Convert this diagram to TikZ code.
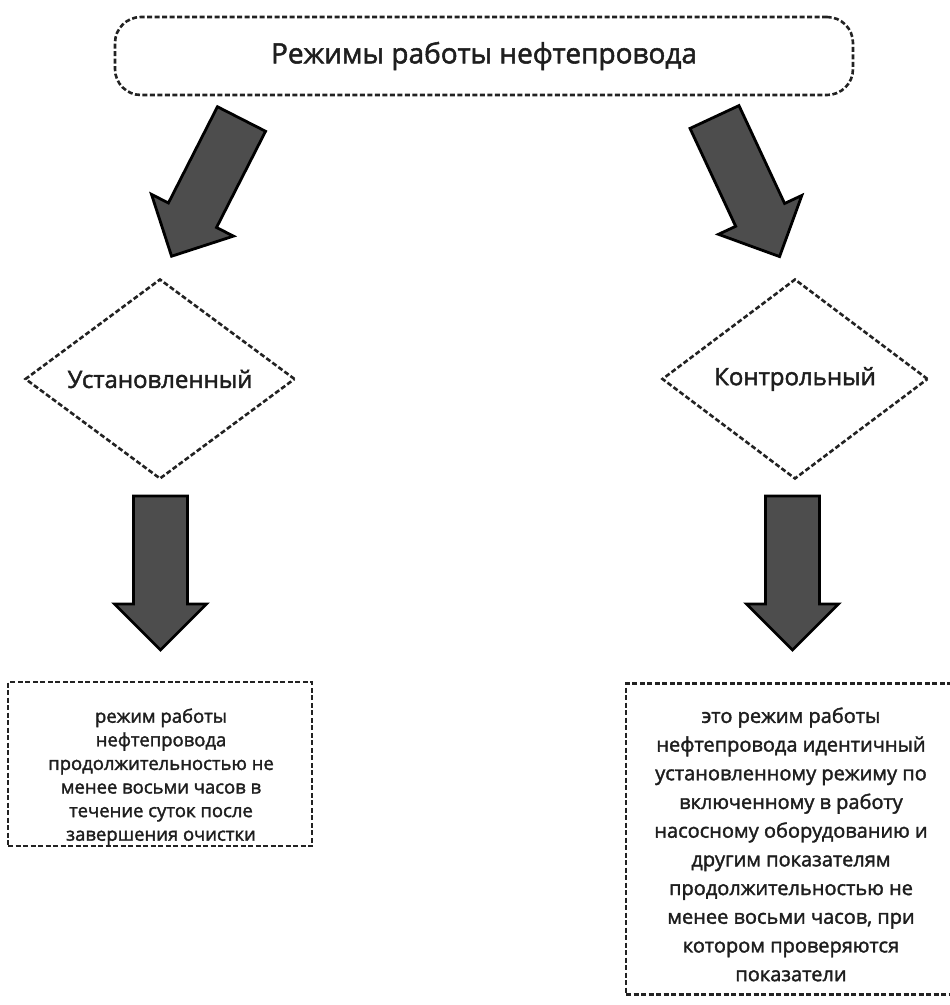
\documentclass[tikz,border=0pt]{standalone}
\usepackage{fontspec}
\setmainfont{Open Sans}
\newfontfamily\osb{Open Sans}[FakeBold=1.8]
\usetikzlibrary{shapes.geometric}
\definecolor{txt}{HTML}{1E1E1E}
\definecolor{edge}{HTML}{222222}
\definecolor{arrowgray}{HTML}{4D4D4D}
\tikzset{
  dashedge/.style={draw=edge, line width=2.6pt, dash pattern=on 5pt off 2.5pt},
  titlebox/.style={dashedge, rounded corners=26pt, minimum width=738pt, minimum height=78pt, text=txt, font=\osb\fontsize{28}{34}\selectfont},
  choice/.style={dashedge, shape=diamond, aspect=1.35, inner sep=0pt, text=txt, font=\osb\fontsize{24}{28}\selectfont},
  descbox/.style={dashedge, rectangle, inner sep=0pt, text=txt, align=center},
  desctext/.style={text=txt, align=center, anchor=north},
  arrowfill/.style={fill=arrowgray, draw=black, line width=2.8pt, line join=miter},
  blockarrow/.pic={\path[arrowfill] (-27,0) -- (27,0) -- (27,108) -- (46,108) -- (0,154) -- (-46,108) -- (-27,108) -- cycle;}
}
\begin{document}
\begin{tikzpicture}[x=1pt,y=-1pt]
\useasboundingbox (0,0) rectangle (950,1005);
\node[titlebox] (title) at (484,56) {Режимы работы нефтепровода};
\node[choice, minimum width=270pt, minimum height=200pt] (ust) at (160,379) {Установленный};
\node[choice, minimum width=266pt, minimum height=200pt] (kon) at (795,379) {Контрольный};
\pic[rotate=-27] at (241.5,119) {blockarrow};
\pic[rotate=25] at (714.5,117) {blockarrow};
\pic at (160.5,496) {blockarrow};
\pic at (792.5,496) {blockarrow};
\node[descbox, minimum width=304pt, minimum height=164pt] (ld) at (160,764) {};
\node[desctext, font=\osb\fontsize{18.5}{23.6}\selectfont] (ldt) at (161,705) {режим работы\\нефтепровода\\продолжительностью не\\менее восьми часов в\\течение суток после\\завершения очистки};
\node[descbox, minimum width=330pt, minimum height=311pt] (rd) at (791,839) {};
\node[desctext, font=\osb\fontsize{20}{28.7}\selectfont] (rdt) at (791,704) {это режим работы\\нефтепровода идентичный\\установленному режиму по\\включенному в работу\\насосному оборудованию и\\другим показателям\\продолжительностью не\\менее восьми часов, при\\котором проверяются\\показатели};
\end{tikzpicture}
\end{document}
